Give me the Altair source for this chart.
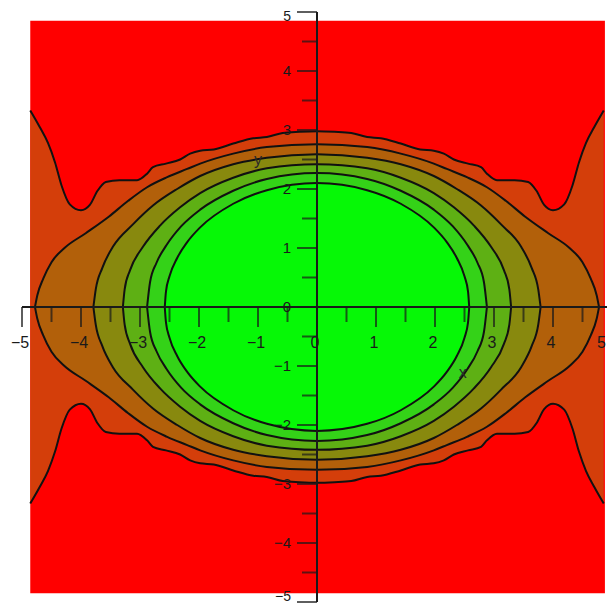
import altair as alt
import pandas as pd

# Upper halves of the contour curves (x >= 0 side).
# The plot is symmetric in x and y, so the curves are mirrored.
c1 = [(0.00, 2.98), (0.30, 2.97), (0.58, 2.95), (0.85, 2.88), (1.08, 2.86), (1.42, 2.77),
      (1.75, 2.67), (1.98, 2.65), (2.15, 2.60), (2.32, 2.50), (2.56, 2.43), (2.78, 2.37),
      (2.88, 2.26), (3.05, 2.15), (3.35, 2.15), (3.58, 2.12), (3.72, 1.97), (3.85, 1.73),
      (4.00, 1.64), (4.19, 1.74), (4.33, 2.06), (4.44, 2.45), (4.56, 2.78), (4.70, 3.05),
      (4.86, 3.33)]
c2 = [(0.00, 2.76), (0.85, 2.71), (1.42, 2.60), (1.98, 2.43), (2.20, 2.34), (2.54, 2.20),
      (2.88, 2.03), (3.20, 1.80), (3.53, 1.53), (3.92, 1.25), (4.28, 1.00), (4.50, 0.76),
      (4.64, 0.48), (4.74, 0.20), (4.78, 0.00)]
c3 = [(0.00, 2.59), (0.85, 2.53), (1.42, 2.42), (1.98, 2.22), (2.37, 2.00), (2.78, 1.72),
      (3.12, 1.40), (3.46, 1.02), (3.64, 0.66), (3.75, 0.30), (3.79, 0.00)]
c4 = [(0.00, 2.42), (0.85, 2.35), (1.42, 2.19), (1.98, 1.93), (2.32, 1.69), (2.66, 1.38),
      (2.95, 1.02), (3.17, 0.62), (3.26, 0.30), (3.29, 0.00)]
c5 = [(0.00, 2.27), (0.85, 2.17), (1.42, 1.97), (1.98, 1.65), (2.30, 1.37), (2.55, 1.05),
      (2.72, 0.75), (2.83, 0.42), (2.88, 0.00)]
c6 = [(0.00, 2.10), (0.85, 1.98), (1.42, 1.75), (1.98, 1.35), (2.20, 1.10), (2.37, 0.83),
      (2.50, 0.52), (2.56, 0.26), (2.58, 0.00)]
contours = [c1, c2, c3, c4, c5, c6]

band_colors = ["#ff0000", "#d43e0a", "#b2600a", "#88890e", "#5eb014", "#34d218", "#06f806"]

fill_x = [-4.86, 4.88]
fill_y = [-4.85, 4.85]

major_ticks = [-5, -4, -3, -2, -1, 0, 1, 2, 3, 4, 5]
minor_ticks = [-4.5, -3.5, -2.5, -1.5, -0.5, 0.5, 1.5, 2.5, 3.5, 4.5]
x_labels = ["\u22125", "\u22124", "\u22123", "\u22122", "\u22121", "0", "1", "2", "3", "4", "5"]
y_labels = ["\u22125", "\u22124", "\u22123", "\u22122", "\u22121", "0", "1", "2", "3", "4", "5"]
axis_titles = [("x", 2.47, -1.12), ("y", -1.00, 2.49)]

grid_vals = [k / 6 for k in range(-29, 30)]

FONT = "Liberation Sans"
INK = "#1a1a1a"


def full_curve(half):
    pts = [(-x, y) for x, y in reversed(half) if x > 0] + list(half)
    return pts


xs = alt.Scale(domain=[-5, 5], range=[0, 590], nice=False, zero=False)
ys = alt.Scale(domain=[-5, 5], nice=False, zero=False)
grid_axis = alt.Axis(values=grid_vals, grid=True, gridColor="white", gridOpacity=0.3,
                     gridWidth=1, labels=False, ticks=False, domain=False, title=None, zindex=1)

bg = alt.Chart(pd.DataFrame({"x": [fill_x[0]], "x2": [fill_x[1]],
                             "y": [fill_y[0]], "y2": [fill_y[1]]})).mark_rect(
    color=band_colors[0]).encode(
    x=alt.X("x:Q", scale=xs, axis=grid_axis),
    x2="x2:Q",
    y=alt.Y("y:Q", scale=ys, axis=grid_axis),
    y2="y2:Q")

layers = [bg]
line_rows = []
for k, half in enumerate(contours):
    pts = full_curve(half)
    df = pd.DataFrame(pts, columns=["x", "y"])
    area = alt.Chart(df).transform_calculate(yn="-datum.y").mark_area(
        interpolate="monotone", color=band_colors[k + 1], opacity=1).encode(
        x=alt.X("x:Q", scale=xs, axis=None),
        y=alt.Y("y:Q", scale=ys, axis=None),
        y2="yn:Q")
    layers.append(area)
    for x, y in pts:
        line_rows.append({"c": k, "h": "top", "x": x, "y": y})
        line_rows.append({"c": k, "h": "bot", "x": x, "y": -y})

lines = alt.Chart(pd.DataFrame(line_rows)).mark_line(
    interpolate="monotone", color="#111111", strokeWidth=2).encode(
    x=alt.X("x:Q", scale=xs, axis=None),
    y=alt.Y("y:Q", scale=ys, axis=None),
    detail=["c:N", "h:N"],
    order="x:Q")
layers.append(lines)

axis_df = pd.DataFrame({"a": [-5.0], "b": [5.0], "z": [0.0]})
x_axis_line = alt.Chart(axis_df).mark_rule(color=INK, strokeWidth=2).encode(
    x=alt.X("a:Q", scale=xs, axis=None), x2="b:Q", y=alt.Y("z:Q", scale=ys, axis=None))
y_axis_line = alt.Chart(axis_df).mark_rule(color=INK, strokeWidth=2).encode(
    y=alt.Y("a:Q", scale=ys, axis=None), y2="b:Q", x=alt.X("z:Q", scale=xs, axis=None))
layers += [x_axis_line, y_axis_line]

maj = pd.DataFrame({"v": major_ticks, "z": 0.0, "xl": x_labels, "yl": y_labels})
mnr = pd.DataFrame({"v": minor_ticks, "z": 0.0})

xt_major = alt.Chart(maj).mark_tick(orient="vertical", size=20, thickness=2, yOffset=10,
                                    color=INK).encode(
    x=alt.X("v:Q", scale=xs, axis=None), y=alt.Y("z:Q", scale=ys, axis=None))
xt_minor = alt.Chart(mnr).mark_tick(orient="vertical", size=15, thickness=2, yOffset=7.5,
                                    color=INK).encode(
    x=alt.X("v:Q", scale=xs, axis=None), y=alt.Y("z:Q", scale=ys, axis=None))
yt_major = alt.Chart(maj).mark_tick(orient="horizontal", size=20, thickness=2, xOffset=-10,
                                    color=INK).encode(
    y=alt.Y("v:Q", scale=ys, axis=None), x=alt.X("z:Q", scale=xs, axis=None))
yt_minor = alt.Chart(mnr).mark_tick(orient="horizontal", size=15, thickness=2, xOffset=-7.5,
                                    color=INK).encode(
    y=alt.Y("v:Q", scale=ys, axis=None), x=alt.X("z:Q", scale=xs, axis=None))
layers += [xt_major, xt_minor, yt_major, yt_minor]

# x tick labels: all but the last centred under their tick; the last is kept inside the page
xl = alt.Chart(maj).transform_filter("datum.v < 5").mark_text(
    font=FONT, fontSize=16, color=INK, dy=36, dx=-2, align="center", baseline="middle").encode(
    x=alt.X("v:Q", scale=xs, axis=None), y=alt.Y("z:Q", scale=ys, axis=None), text="xl:N")
xl_last = alt.Chart(maj).transform_filter("datum.v >= 5").mark_text(
    font=FONT, fontSize=16, color=INK, dy=36, dx=-6, align="right", baseline="middle").encode(
    x=alt.X("v:Q", scale=xs, axis=None), y=alt.Y("z:Q", scale=ys, axis=None), text="xl:N")

# y tick labels: the two end labels are nudged inward so they stay on the page
def ylab(flt, dy, size):
    return alt.Chart(maj).transform_filter(flt).mark_text(
        font=FONT, fontSize=size, color=INK, dx=-26, dy=dy, align="right",
        baseline="middle").encode(
        y=alt.Y("v:Q", scale=ys, axis=None), x=alt.X("z:Q", scale=xs, axis=None), text="yl:N")


yl_mid = ylab("datum.v > -5 && datum.v < 5", 0, 15)
yl_top = ylab("datum.v >= 5", 5, 14)
yl_bot = ylab("datum.v <= -5", -5, 14)
layers += [xl, xl_last, yl_mid, yl_top, yl_bot]

titles = alt.Chart(pd.DataFrame(axis_titles, columns=["t", "x", "y"])).mark_text(
    font=FONT, fontSize=16, color="#2a2a2a", align="center", baseline="middle").encode(
    x=alt.X("x:Q", scale=xs, axis=None), y=alt.Y("y:Q", scale=ys, axis=None), text="t:N")
layers.append(titles)

chart = alt.layer(*layers).properties(
    width=585, height=590,
    autosize=alt.AutoSizeParams(type="none"),
    padding={"left": 14, "top": 4, "right": 0, "bottom": 4},
).configure_view(stroke=None)

chart.save("out.html", embed_options={"renderer": "svg", "actions": False})
